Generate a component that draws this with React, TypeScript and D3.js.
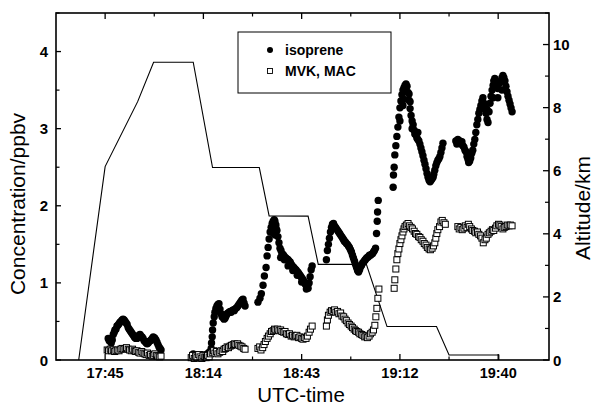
import React from 'react';
import * as d3 from 'd3';

// ---------- axes ----------
const xTickValues = [45, 74, 103, 132, 161]; // minutes after 17:00
const xTickLabels = ['17:45', '18:14', '18:43', '19:12', '19:40'];
const xMinorTicks = [59.5, 88.5, 117.5, 146.5];
const concTicks = [0, 1, 2, 3, 4];
const concMinor = [0.5, 1.5, 2.5, 3.5, 4.5];
const altTicks = [0, 2, 4, 6, 8, 10];
const altMinor = [1, 3, 5, 7, 9, 11];

// ---------- altitude (km) ----------
const altitude: [number, number][] = [
  [37.2, 0], [45.0, 6.13], [54.6, 8.19], [59.3, 9.44], [71.0, 9.44], [76.7, 6.1],
  [90.5, 6.1], [93.4, 4.57], [104.9, 4.56], [107.9, 3.03], [122.1, 3.03], [128.2, 1.06],
  [142.8, 1.06], [146.5, 0.16], [161.2, 0.16], [161.2, 0],
];

// ---------- isoprene (ppbv) ----------
const isoprene1: [number, number][] = [
  [45.9, 0.28], [46.2, 0.25], [46.5, 0.27], [46.8, 0.22], [47.1, 0.26], [47.4, 0.33], [47.7, 0.36], [47.9, 0.39],
  [48.2, 0.40], [48.5, 0.44], [48.8, 0.45], [49.1, 0.47], [49.4, 0.49], [49.7, 0.50], [50.0, 0.52], [50.3, 0.53],
  [50.6, 0.52], [50.9, 0.50], [51.2, 0.48], [51.5, 0.46], [51.8, 0.42], [52.1, 0.40], [52.4, 0.38], [52.7, 0.36],
  [53.0, 0.34], [53.3, 0.32], [53.6, 0.30], [53.8, 0.29], [54.1, 0.28], [54.4, 0.28], [54.7, 0.30], [55.0, 0.32],
  [55.3, 0.33], [55.6, 0.31], [55.9, 0.30], [56.2, 0.28], [56.5, 0.25], [56.8, 0.24], [57.1, 0.22], [57.4, 0.21],
  [57.7, 0.22], [58.0, 0.24], [58.3, 0.25], [58.6, 0.26], [58.9, 0.28], [59.2, 0.30], [59.5, 0.29], [59.7, 0.28],
  [60.0, 0.26], [60.3, 0.23], [60.6, 0.20], [60.9, 0.17], [61.2, 0.15], [61.5, 0.13],
];
const isoprene2: [number, number][] = [
  [70.7, 0.05], [71.0, 0.08], [71.3, 0.03], [71.5, 0.06], [71.8, 0.04], [72.1, 0.07], [72.4, 0.05], [72.7, 0.03],
  [73.0, 0.06], [73.3, 0.04], [73.6, 0.07], [73.9, 0.05], [74.2, 0.03], [74.5, 0.06], [74.8, 0.04], [75.1, 0.08],
  [75.4, 0.05], [75.7, 0.10], [76.3, 0.15], [76.4, 0.22], [76.6, 0.30], [76.7, 0.39], [76.9, 0.48], [77.2, 0.56],
  [77.4, 0.62], [77.7, 0.67], [78.0, 0.70], [78.3, 0.72], [78.6, 0.73], [78.9, 0.66], [79.2, 0.60], [79.5, 0.56],
  [79.8, 0.55], [80.1, 0.53], [80.4, 0.54], [80.7, 0.57], [81.0, 0.60], [81.3, 0.61], [81.6, 0.62], [81.9, 0.63],
  [82.2, 0.62], [82.5, 0.64], [82.8, 0.65], [83.1, 0.64], [83.3, 0.66], [83.6, 0.67], [83.9, 0.68], [84.2, 0.70],
  [84.5, 0.72], [84.8, 0.74], [85.1, 0.76], [85.4, 0.78], [85.7, 0.79], [86.0, 0.74], [86.3, 0.70],
];
const isoprene3: [number, number][] = [
  [90.1, 0.75], [90.7, 0.80], [91.1, 0.86], [91.6, 0.97], [92.0, 1.09], [92.5, 1.20], [92.8, 1.35], [93.1, 1.46],
  [93.4, 1.57], [93.7, 1.66], [94.0, 1.72], [94.3, 1.77], [94.6, 1.80], [94.9, 1.82], [95.1, 1.80], [95.4, 1.75],
  [95.7, 1.68], [96.0, 1.60], [96.3, 1.52], [96.6, 1.45], [96.9, 1.42], [97.2, 1.38], [97.5, 1.37], [97.8, 1.35],
  [98.1, 1.33], [98.4, 1.32], [98.7, 1.31], [99.0, 1.30], [99.3, 1.28], [99.6, 1.27], [99.8, 1.25], [100.1, 1.23],
  [100.4, 1.21], [100.7, 1.20], [101.0, 1.18], [101.3, 1.17], [101.6, 1.15], [101.9, 1.14], [102.2, 1.12], [102.5, 1.10],
  [102.8, 1.08], [103.1, 1.06], [103.4, 1.04], [103.7, 1.02], [104.0, 0.99], [104.3, 0.97], [104.6, 0.95], [104.9, 0.93],
  [105.2, 1.00], [105.5, 1.08], [105.8, 1.17], [106.1, 1.22],
  [95.2, 1.62], [95.5, 1.70], [94.5, 1.65], [96.8, 1.33], [97.9, 1.30], [99.0, 1.22], [100.4, 1.16], [101.7, 1.10],
  [103.0, 1.01], [104.4, 0.92],
];
const isoprene4: [number, number][] = [
  [110.3, 1.30], [110.6, 1.42], [110.9, 1.50], [111.2, 1.58], [111.5, 1.66], [111.8, 1.72], [112.1, 1.76], [112.4, 1.77],
  [112.7, 1.74], [113.0, 1.72], [113.3, 1.70], [113.6, 1.68], [113.9, 1.66], [114.2, 1.64], [114.5, 1.62], [114.8, 1.60],
  [115.1, 1.58], [115.4, 1.56], [115.6, 1.54], [115.9, 1.53], [116.2, 1.51], [116.5, 1.50], [116.8, 1.48], [117.1, 1.46],
  [117.4, 1.43], [117.7, 1.40], [118.0, 1.36], [118.3, 1.32], [118.6, 1.28], [118.9, 1.24], [119.2, 1.20], [119.5, 1.16],
  [119.8, 1.14], [120.1, 1.17], [120.4, 1.21], [120.7, 1.23], [121.0, 1.26], [121.3, 1.27], [121.6, 1.29], [121.8, 1.30],
  [122.1, 1.32], [122.4, 1.33], [122.7, 1.34], [123.0, 1.36], [123.3, 1.36], [123.6, 1.37], [123.9, 1.38], [124.2, 1.40],
  [124.5, 1.42], [124.8, 1.45], [125.1, 1.64], [125.3, 1.80], [125.4, 1.92], [125.6, 2.07],
];
const isoprene5: [number, number][] = [
  [130.0, 2.24], [130.1, 2.40], [130.3, 2.50], [130.5, 2.66], [130.8, 2.78], [131.1, 2.90], [131.4, 3.02], [131.7, 3.15],
  [132.0, 3.27], [132.3, 3.36], [132.6, 3.44], [132.9, 3.50], [133.2, 3.53], [133.5, 3.56], [133.8, 3.58], [134.1, 3.55],
  [134.4, 3.47], [134.7, 3.37], [135.0, 3.26], [135.3, 3.17], [135.6, 3.10], [135.9, 3.05], [136.2, 2.98], [136.4, 2.93],
  [136.7, 2.92], [137.0, 2.88], [137.3, 2.86], [137.6, 2.84], [137.9, 2.80], [138.2, 2.75], [138.5, 2.70], [138.8, 2.65],
  [139.1, 2.59], [139.4, 2.54], [139.7, 2.48], [140.0, 2.42], [140.3, 2.37], [140.6, 2.33], [140.9, 2.31], [141.2, 2.33],
  [141.5, 2.35], [141.8, 2.37], [142.0, 2.41], [142.3, 2.46], [142.6, 2.52], [142.9, 2.56], [143.2, 2.59], [143.5, 2.61],
  [143.8, 2.64], [144.1, 2.69], [144.4, 2.75], [144.7, 2.81],
  [132.9, 3.30], [133.2, 3.38], [134.7, 3.45], [135.0, 3.35], [135.6, 3.00], [137.3, 2.95], [132.0, 3.10],
];
const isoprene6: [number, number][] = [
  [148.5, 2.84], [148.8, 2.80], [149.1, 2.86], [149.4, 2.82], [149.7, 2.84], [150.0, 2.80], [150.3, 2.83], [150.6, 2.78],
  [150.9, 2.76], [151.2, 2.72], [151.5, 2.70], [151.8, 2.64], [152.1, 2.60], [152.3, 2.56], [152.6, 2.58], [152.9, 2.62],
  [153.2, 2.68], [153.5, 2.72], [153.8, 2.80], [154.1, 2.86], [154.4, 2.95], [154.7, 3.05], [155.0, 3.12], [155.3, 3.20],
  [155.6, 3.25], [155.9, 3.30], [156.2, 3.36], [156.5, 3.40], [156.8, 3.33], [157.1, 3.27], [157.4, 3.20], [157.7, 3.12],
  [158.0, 3.08], [158.3, 3.22], [158.6, 3.33], [158.9, 3.42], [159.2, 3.50], [159.5, 3.56], [159.7, 3.62], [160.0, 3.65],
  [160.3, 3.60], [160.6, 3.55], [160.9, 3.52], [161.2, 3.58], [161.5, 3.60], [161.8, 3.62], [162.1, 3.66], [162.4, 3.69],
  [162.7, 3.66], [163.0, 3.62], [163.3, 3.55], [163.6, 3.48], [163.9, 3.42], [164.2, 3.37], [164.5, 3.32], [164.8, 3.27],
  [165.1, 3.22],
  [156.5, 3.28], [157.7, 3.25], [159.5, 3.40], [160.9, 3.40], [162.1, 3.50],
];

// ---------- MVK + MAC (ppbv) ----------
const mvk1: [number, number][] = [
  [45.6, 0.13], [46.0, 0.12], [46.5, 0.14], [46.9, 0.12], [47.4, 0.13], [47.8, 0.11], [48.2, 0.12], [48.7, 0.13],
  [49.1, 0.12], [49.6, 0.14], [50.0, 0.15], [50.5, 0.14], [50.9, 0.15], [51.3, 0.16], [51.8, 0.14], [52.2, 0.13],
  [52.7, 0.12], [53.1, 0.14], [53.6, 0.12], [54.0, 0.11], [54.4, 0.12], [54.9, 0.10], [55.3, 0.09], [55.8, 0.11],
  [56.2, 0.09], [56.7, 0.08], [57.1, 0.07], [57.5, 0.09], [58.0, 0.06], [58.4, 0.07], [58.9, 0.05], [59.3, 0.06],
  [59.7, 0.08], [60.2, 0.06], [60.6, 0.05], [61.1, 0.04], [61.5, 0.05],
];
const mvk2: [number, number][] = [
  [70.4, 0.03], [70.8, 0.06], [71.3, 0.02], [71.7, 0.05], [72.1, 0.03], [72.6, 0.07], [73.0, 0.04], [73.5, 0.02],
  [73.9, 0.06], [74.4, 0.04], [74.8, 0.03], [75.2, 0.06], [75.7, 0.04], [76.1, 0.08], [76.6, 0.10], [77.0, 0.12],
  [77.4, 0.09], [77.9, 0.11], [78.3, 0.08], [78.8, 0.10], [79.2, 0.12], [79.7, 0.11], [80.1, 0.14], [80.5, 0.15],
  [81.0, 0.17], [81.4, 0.16], [81.9, 0.18], [82.3, 0.19], [82.8, 0.20], [83.2, 0.21], [83.6, 0.20], [84.1, 0.21],
  [84.5, 0.19], [85.0, 0.18], [85.4, 0.17], [85.9, 0.15], [86.3, 0.14],
];
const mvk3: [number, number][] = [
  [90.1, 0.15], [90.6, 0.17], [91.0, 0.13], [91.5, 0.16], [91.9, 0.20], [92.3, 0.24], [92.8, 0.28], [93.2, 0.31],
  [93.7, 0.34], [94.1, 0.37], [94.6, 0.38], [95.0, 0.40], [95.4, 0.39], [95.9, 0.40], [96.3, 0.38], [96.8, 0.39],
  [97.2, 0.37], [97.7, 0.36], [98.1, 0.37], [98.5, 0.34], [99.0, 0.33], [99.4, 0.34], [99.9, 0.31], [100.3, 0.32],
  [100.8, 0.30], [101.2, 0.31], [101.6, 0.32], [102.1, 0.29], [102.5, 0.30], [103.0, 0.28], [103.4, 0.27], [103.8, 0.29],
  [104.3, 0.28], [104.7, 0.31], [105.2, 0.36], [105.6, 0.40], [106.1, 0.44],
];
const mvk4: [number, number][] = [
  [110.3, 0.44], [110.6, 0.52], [110.9, 0.58], [111.4, 0.62], [111.8, 0.64], [112.3, 0.63], [112.7, 0.65], [113.1, 0.62],
  [113.6, 0.63], [114.0, 0.60], [114.5, 0.61], [114.9, 0.57], [115.4, 0.56], [115.8, 0.53], [116.2, 0.51], [116.7, 0.48],
  [117.1, 0.46], [117.6, 0.44], [118.0, 0.42], [118.5, 0.40], [118.9, 0.38], [119.3, 0.37], [119.8, 0.36], [120.2, 0.34],
  [120.7, 0.33], [121.1, 0.32], [121.6, 0.30], [122.0, 0.31], [122.4, 0.29], [122.9, 0.31], [123.3, 0.34], [123.8, 0.36],
  [124.2, 0.39], [124.6, 0.45], [124.9, 0.56], [125.2, 0.67], [125.5, 0.80], [125.8, 0.92],
];
const mvk5: [number, number][] = [
  [130.3, 0.93], [130.5, 1.04], [130.8, 1.18], [131.1, 1.30], [131.4, 1.38], [131.7, 1.44], [132.0, 1.51], [132.3, 1.56],
  [132.6, 1.61], [132.9, 1.66], [133.2, 1.70], [133.5, 1.73], [133.9, 1.75], [134.4, 1.77], [134.8, 1.74], [135.3, 1.72],
  [135.7, 1.70], [136.2, 1.67], [136.6, 1.64], [137.0, 1.63], [137.5, 1.60], [137.9, 1.59], [138.3, 1.56], [138.8, 1.54],
  [139.2, 1.51], [139.7, 1.49], [140.1, 1.46], [140.6, 1.44], [141.0, 1.43], [141.5, 1.45], [141.9, 1.48], [142.3, 1.52],
  [142.6, 1.58], [142.9, 1.64], [143.2, 1.69], [143.7, 1.73], [144.1, 1.79], [144.5, 1.81], [145.0, 1.78], [145.4, 1.76],
];
const mvk6: [number, number][] = [
  [149.1, 1.73], [149.5, 1.70], [150.0, 1.72], [150.4, 1.69], [150.9, 1.71], [151.3, 1.74], [151.8, 1.72], [152.2, 1.76],
  [152.6, 1.73], [153.1, 1.70], [153.5, 1.68], [154.0, 1.67], [154.4, 1.65], [154.9, 1.66], [155.3, 1.63], [155.8, 1.61],
  [156.2, 1.58], [156.6, 1.52], [157.1, 1.56], [157.5, 1.58], [158.0, 1.63], [158.4, 1.65], [158.9, 1.67], [159.3, 1.69],
  [159.7, 1.68], [160.2, 1.71], [160.6, 1.74], [161.1, 1.76], [161.5, 1.75], [161.9, 1.73], [162.4, 1.70], [162.8, 1.72],
  [163.3, 1.73], [163.7, 1.75], [164.2, 1.74], [164.6, 1.75], [165.1, 1.74],
];

const isoprene = [...isoprene1, ...isoprene2, ...isoprene3, ...isoprene4, ...isoprene5, ...isoprene6];
const mvkMac = [...mvk1, ...mvk2, ...mvk3, ...mvk4, ...mvk5, ...mvk6];

const FONT = '"Liberation Sans", Arial, Helvetica, sans-serif';

export default function App() {
  const left = 56, right = 549, top = 13, bottom = 360;
  const x = d3.scaleLinear().domain([30.5, 176]).range([left, right]);
  const yC = d3.scaleLinear().domain([0, 4.5]).range([bottom, top]);
  const yA = d3.scaleLinear().domain([0, 11]).range([bottom, top]);
  const altLine = d3.line<[number, number]>().x(d => x(d[0])).y(d => yA(d[1]))(altitude) || '';
  const sq = 6;

  return (
    <svg width={596} height={405} style={{ position: 'absolute', left: 0, top: 0, background: '#fff' }}
      fontFamily={FONT}>
      <rect x={0} y={0} width={596} height={405} fill="#fff" />
      {/* altitude line */}
      <path d={altLine} fill="none" stroke="#000" strokeWidth={1.1} />
      {/* isoprene */}
      {isoprene.map((d, i) => (
        <circle key={'i' + i} cx={x(d[0])} cy={yC(d[1])} r={3.7} fill="#000" />
      ))}
      {/* MVK, MAC */}
      {mvkMac.map((d, i) => (
        <rect key={'m' + i} x={x(d[0]) - sq / 2} y={yC(d[1]) - sq / 2} width={sq} height={sq}
          fill="#fff" stroke="#000" strokeWidth={1} />
      ))}
      {/* frame */}
      <rect x={left} y={top} width={right - left} height={bottom - top} fill="none" stroke="#000" strokeWidth={1.6} />
      {/* x ticks bottom & top */}
      {xTickValues.map((v, i) => (
        <g key={'xt' + i}>
          <line x1={x(v)} x2={x(v)} y1={bottom} y2={bottom - 6} stroke="#000" strokeWidth={1.3} />
          <line x1={x(v)} x2={x(v)} y1={top} y2={top + 6} stroke="#000" strokeWidth={1.3} />
          <text x={x(v)} y={378} textAnchor="middle" fontWeight="bold" fontSize={14.5}>{xTickLabels[i]}</text>
        </g>
      ))}
      {xMinorTicks.map((v, i) => (
        <g key={'xm' + i}>
          <line x1={x(v)} x2={x(v)} y1={bottom} y2={bottom - 3.5} stroke="#000" strokeWidth={1.2} />
          <line x1={x(v)} x2={x(v)} y1={top} y2={top + 3.5} stroke="#000" strokeWidth={1.2} />
        </g>
      ))}
      {/* left axis */}
      {concTicks.map(v => (
        <g key={'ct' + v}>
          <line x1={left} x2={left + 5} y1={yC(v)} y2={yC(v)} stroke="#000" strokeWidth={1.3} />
          <text x={48} y={yC(v) + 5.5} textAnchor="end" fontWeight="bold" fontSize={15}>{v}</text>
        </g>
      ))}
      {concMinor.map(v => (
        <line key={'cm' + v} x1={left} x2={left + 3.5} y1={yC(v)} y2={yC(v)} stroke="#000" strokeWidth={1.2} />
      ))}
      {/* right axis */}
      {altTicks.map(v => (
        <g key={'at' + v}>
          <line x1={right} x2={right - 6} y1={yA(v)} y2={yA(v)} stroke="#000" strokeWidth={1.3} />
          <text x={553} y={yA(v) + 5.5} textAnchor="start" fontWeight="bold" fontSize={15}>{v}</text>
        </g>
      ))}
      {altMinor.map(v => (
        <line key={'am' + v} x1={right} x2={right - 4} y1={yA(v)} y2={yA(v)} stroke="#000" strokeWidth={1.2} />
      ))}
      {/* axis titles */}
      <text x={301} y={402} textAnchor="middle" fontSize={20.5}>UTC-time</text>
      <text transform="translate(25,204) rotate(-90)" textAnchor="middle" fontSize={21}>Concentration/ppbv</text>
      <text transform="translate(590,208) rotate(-90)" textAnchor="middle" fontSize={21}>Altitude/km</text>
      {/* legend */}
      <rect x={238} y={32} width={153} height={61} fill="#fff" stroke="#000" strokeWidth={1} />
      <circle cx={270} cy={50} r={3} fill="#000" />
      <text x={285} y={55} fontWeight="bold" fontSize={14}>isoprene</text>
      <rect x={270 - 2.5} y={71 - 2.5} width={5} height={5} fill="#fff" stroke="#000" strokeWidth={0.9} />
      <text x={285} y={76} fontWeight="bold" fontSize={14}>MVK, MAC</text>
    </svg>
  );
}
